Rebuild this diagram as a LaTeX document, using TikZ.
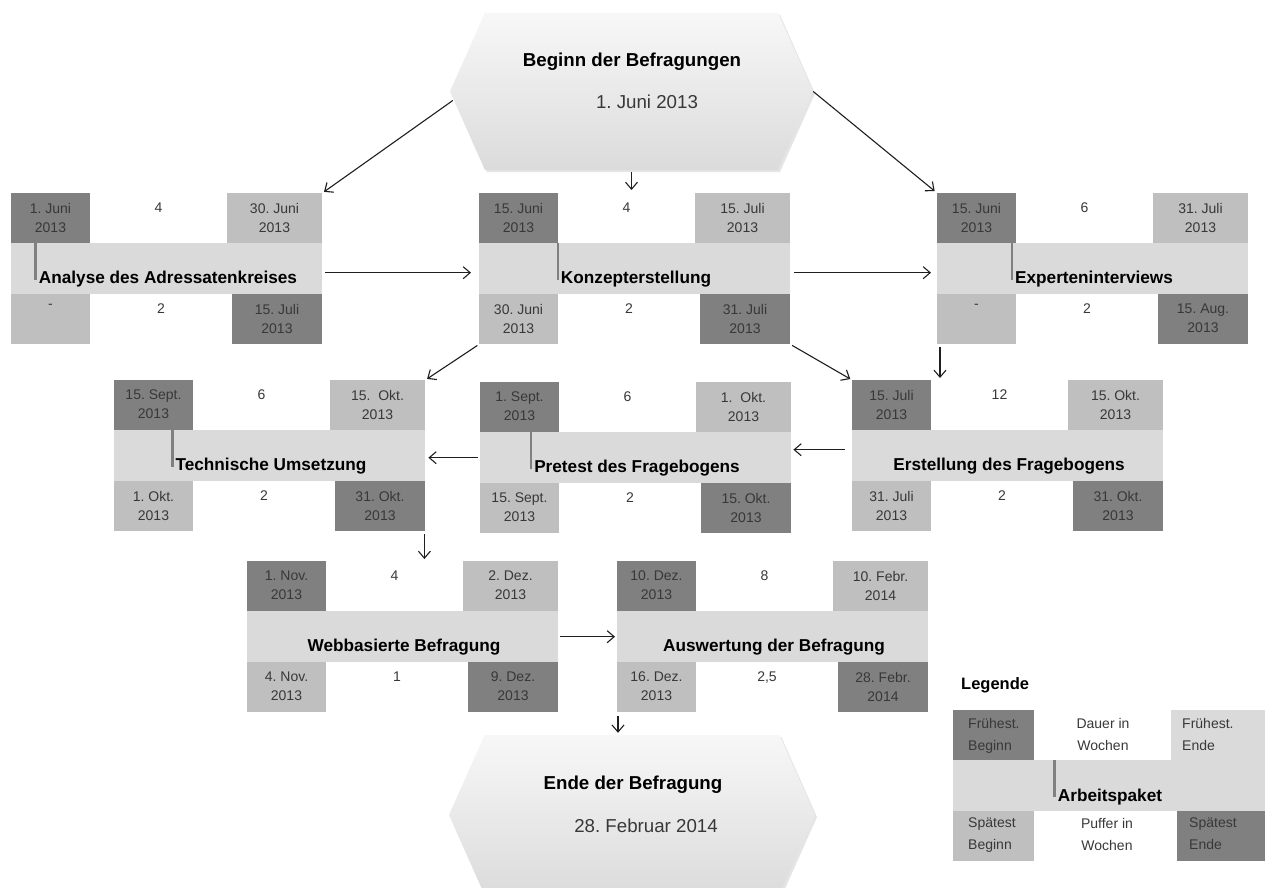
\documentclass[tikz,border=0pt]{standalone}
\usepackage{fontspec}
\setmainfont{Liberation Sans}
\frenchspacing
\usetikzlibrary{calc,arrows.meta,shapes.symbols,shadows}
\definecolor{dk}{gray}{0.50}
\definecolor{lt}{gray}{0.75}
\definecolor{band}{gray}{0.855}
\definecolor{txt}{gray}{0.22}
\definecolor{ln}{gray}{0.12}
\tikzset{
 apbg/.style={fill=band, minimum width=311pt, minimum height=151pt, inner sep=0pt, draw=none},
 celltxt/.style={anchor=north, align=center, inner sep=0pt, text=txt, font=\fontsize{14}{19}\selectfont},
 legtxt/.style={align=left, inner sep=0pt, text=txt, font=\fontsize{14}{22}\selectfont},
 titletxt/.style={anchor=base, inner sep=0pt, text=black, font=\bfseries\fontsize{17.2}{20}\selectfont},
 barline/.style={draw=dk, line width=2.5pt},
 arr/.style={draw=ln, line width=1.1pt, -{Straight Barb[length=7pt,width=12pt,line width=1.1pt]}},
 hexshape/.style={signal, signal to=west and east, signal pointer angle=132, top color=gray!6, bottom color=gray!28, draw=none, minimum width=363pt, minimum height=157pt, inner sep=0pt, drop shadow={opacity=0.2,shadow xshift=2pt,shadow yshift=-2pt}},
 hextitle/.style={font=\bfseries\fontsize{18.7}{22}\selectfont, inner sep=0pt},
 hexdate/.style={font=\fontsize{18.7}{22}\selectfont, inner sep=0pt, text=txt},
}
\newcommand\apbox[9]{%
 \node[apbg, anchor=north west] (#1) at (#2) {};
 \begin{scope}[shift={(#1.north west)}]
  \fill[dk] (0,0) rectangle (79,50);
  \fill[white] (79,0) rectangle (216,50);
  \fill[lt] (216,0) rectangle (311,50);
  \fill[lt] (0,101) rectangle (79,151);
  \fill[white] (79,101) rectangle (221,151);
  \fill[dk] (221,101) rectangle (311,151);
  \node[celltxt] (#1-tl) at (39.5,10) {#3};
  \node[celltxt] (#1-tm) at (147.5,10) {#4};
  \node[celltxt] (#1-tr) at (263.5,10) {#5};
  \node[titletxt] (#1-t) at (157,90) {#6};
  \node[celltxt] (#1-bl) at (39.5,111) {#7};
  \node[celltxt] (#1-bm) at (150,111) {#8};
  \node[celltxt] (#1-br) at (266,111) {#9};
  \coordinate (#1-bt) at (0,50);
  \coordinate (#1-bb) at (0,87);
 \end{scope}
}
\newcommand\apbar[1]{%
 \coordinate (#1-bx) at ($(#1-t.west)+(-3,0)$);
 \draw[barline] (#1-bx |- #1-bt) -- (#1-bx |- #1-bb);
}
\begin{document}
\begin{tikzpicture}[x=1pt,y=-1pt]
\clip (0,0) rectangle (1268,888);
\fill[white] (0,0) rectangle (1268,888);

% start and end events
\node[hexshape] (hexT) at (631.5,91.5) {};
\node[hextitle] (bt) at (632,62) {Beginn der Befragungen};
\node[hexdate] (bd) at (647,102) {1. Juni 2013};
\node[hexshape, minimum width=366pt, minimum height=160pt] (hexB) at (632,815) {};
\node[hextitle] (et) at (633,785) {Ende der Befragung};
\node[hexdate] (ed) at (646,826) {28. Februar 2014};

% work packages
\apbox{an}{11,193}{1. Juni\\2013}{4}{30. Juni\\2013}{Analyse des Adressatenkreises}{-}{2}{15. Juli\\2013}
\apbar{an}
\apbox{ko}{479,193}{15. Juni\\2013}{4}{15. Juli\\2013}{Konzepterstellung}{30. Juni\\2013}{2}{31. Juli\\2013}
\apbar{ko}
\apbox{ex}{937,193}{15. Juni\\2013}{6}{31. Juli\\2013}{Experteninterviews}{-}{2}{15. Aug.\\2013}
\apbar{ex}
\apbox{te}{114,380}{15. Sept.\\2013}{6}{15.\ \ Okt.\\2013}{Technische Umsetzung}{1. Okt.\\2013}{2}{31. Okt.\\2013}
\apbar{te}
\apbox{pr}{480,382}{1. Sept.\\2013}{6}{1.\ \ Okt.\\2013}{Pretest des Fragebogens}{15. Sept.\\2013}{2}{15. Okt.\\2013}
\apbar{pr}
\apbox{er}{852,380}{15. Juli\\2013}{12}{15. Okt.\\2013}{Erstellung des Fragebogens}{31. Juli\\2013}{2}{31. Okt.\\2013}
\apbox{wb}{247,561}{1. Nov.\\2013}{4}{2. Dez.\\2013}{Webbasierte Befragung}{4. Nov.\\2013}{1}{9. Dez.\\2013}
\apbox{au}{617,561}{10. Dez.\\2013}{8}{10. Febr.\\2014}{Auswertung der Befragung}{16. Dez.\\2013}{2,5}{28. Febr.\\2014}

% legend
\node[font=\bfseries\fontsize{16.5}{19}\selectfont, anchor=west, inner sep=0pt] (lgh) at (961,685) {Legende};
\node[apbg, anchor=north west, minimum width=312pt] (lg) at (953,710) {};
\begin{scope}[shift={(lg.north west)}]
 \fill[dk] (0,0) rectangle (81,50);
 \fill[white] (81,0) rectangle (218,50);
 \fill[lt] (0,101) rectangle (81,151);
 \fill[white] (81,101) rectangle (224,151);
 \fill[dk] (224,101) rectangle (312,151);
 \node[legtxt, anchor=north west] (lg-tl) at (15,8) {Frühest.\\Beginn};
 \node[legtxt, anchor=north, align=center] (lg-tm) at (150,8) {Dauer in\\Wochen};
 \node[legtxt, anchor=north west] (lg-tr) at (229,8) {Frühest.\\Ende};
 \node[titletxt] (lg-t) at (157,91) {Arbeitspaket};
 \coordinate (lg-bt) at (0,50);
 \coordinate (lg-bb) at (0,87);
 \node[legtxt, anchor=north west] (lg-bl) at (15,108) {Spätest\\Beginn};
 \node[legtxt, anchor=north, align=center] (lg-bm) at (154,108) {Puffer in\\Wochen};
 \node[legtxt, anchor=north west] (lg-br) at (236,108) {Spätest\\Ende};
\end{scope}
\apbar{lg}

% connectors
\draw[arr, shorten >=2pt] ($(hexT.west)+(3,9)$) -- (an.north east);
\draw[arr, shorten <=2pt, shorten >=3pt] (hexT.south) -- (hexT.south |- ko.north);
\draw[arr, shorten >=3pt] (hexT.east) -- (ex.north west);
\draw[arr, shorten <=3pt, shorten >=8pt] ($(an.east)+(0,4)$) -- ($(ko.west)+(0,4)$);
\draw[arr, shorten <=4pt, shorten >=6pt] ($(ko.east)+(0,4)$) -- ($(ex.west)+(0,4)$);
\draw[arr, shorten <=2pt, shorten >=2pt] (ko.south west) -- (te.north east);
\draw[arr, shorten <=2pt, shorten >=2pt] (ko.south east) -- (er.north west);
\coordinate (exd) at ($(ex.south west)+(3,0)$);
\draw[arr, shorten <=3pt, shorten >=2pt] (exd) -- (exd |- er.north);
\draw[arr, shorten <=7pt, shorten >=2pt] ($(er.west)+(0,-6)$) -- ($(pr.east)+(0,-8)$);
\draw[arr, shorten <=2pt, shorten >=3pt] (pr.west) -- (pr.west -| te.east);
\coordinate (ted) at ($(te.south east)+(-1,0)$);
\draw[arr, shorten <=3pt, shorten >=2pt] (ted) -- (ted |- wb.north);
\draw[arr, shorten <=2pt, shorten >=2pt] (wb.east) -- (au.west);
\coordinate (aud) at ($(au.south west)+(1,0)$);
\draw[arr, shorten <=4pt, shorten >=2pt] (aud) -- (aud |- hexB.north);
\end{tikzpicture}
\end{document}
